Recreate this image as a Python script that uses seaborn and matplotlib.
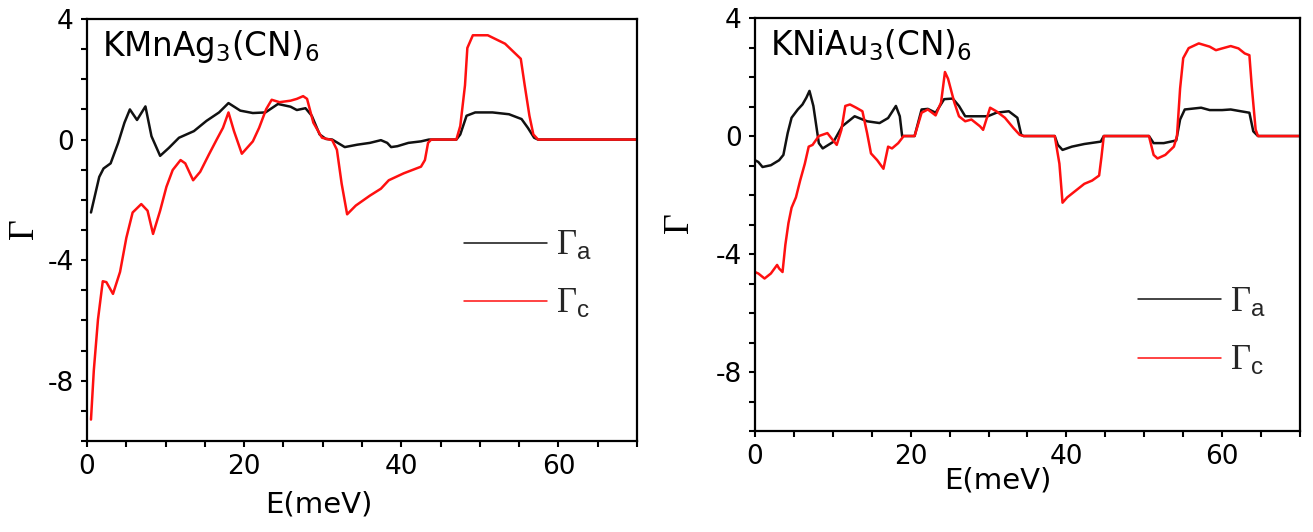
import matplotlib
matplotlib.use("Agg")
import matplotlib.pyplot as plt
from matplotlib.font_manager import FontProperties
from matplotlib.lines import Line2D
from matplotlib.ticker import MultipleLocator, FixedLocator
import seaborn as sns

# ---- KMnAg3(CN)6 ----
mn_ea = [0.5, 1.55, 2.1, 3.0, 3.96, 4.76, 5.45, 6.36, 7.43, 8.2, 9.3, 10.4, 11.7, 13.6, 15.2,
         16.8, 18.0, 19.5, 21.1, 22.7, 24.3, 25.9, 26.7, 27.8, 28.6, 29.6, 30.4, 31.2, 32.8,
         34.4, 36.0, 37.4, 38.2, 38.7, 39.5, 40.9, 42.5, 43.5, 47.0, 47.5, 48.3, 49.4, 51.6,
         53.7, 55.3, 56.1, 56.9, 57.4, 70.0]
mn_ga = [-2.42, -1.24, -0.96, -0.79, -0.11, 0.56, 1.0, 0.65, 1.1, 0.11, -0.54, -0.28, 0.06, 0.28,
         0.62, 0.9, 1.21, 0.96, 0.88, 0.9, 1.18, 1.09, 0.98, 1.04, 0.79, 0.17, 0.02, 0.0, -0.25,
         -0.17, -0.11, -0.02, -0.11, -0.25, -0.22, -0.11, -0.06, 0.0, 0.0, 0.17, 0.79, 0.9, 0.9,
         0.84, 0.68, 0.39, 0.06, 0.0, 0.0]

mn_ec = [0.5, 0.86, 1.39, 2.0, 2.46, 3.3, 4.2, 5.0, 5.8, 6.9, 7.7, 8.4, 9.3, 10.1, 10.9, 11.9,
         12.5, 13.5, 14.4, 15.5, 16.5, 17.3, 18.0, 18.7, 19.7, 21.1, 21.9, 22.8, 23.5, 24.5,
         25.9, 26.7, 27.5, 28.0, 28.8, 29.9, 31.2, 31.8, 32.4, 33.1, 34.2, 36.0, 37.4, 38.4,
         40.3, 42.5, 43.0, 43.4, 43.8, 47.0, 47.5, 48.1, 48.4, 49.1, 51.0, 52.1, 53.2, 54.2,
         55.2, 55.7, 56.3, 56.8, 57.4, 70.0]
mn_gc = [-9.29, -7.66, -5.97, -4.7, -4.73, -5.12, -4.39, -3.26, -2.42, -2.14, -2.36, -3.13, -2.36,
         -1.57, -1.01, -0.68, -0.79, -1.35, -1.07, -0.5, 0.0, 0.39, 0.9, 0.28, -0.47, -0.06, 0.39,
         1.01, 1.32, 1.24, 1.29, 1.35, 1.44, 1.35, 0.56, 0.06, -0.02, -0.34, -1.46, -2.48, -2.19,
         -1.86, -1.63, -1.35, -1.12, -0.9, -0.68, -0.11, 0.0, 0.0, 0.45, 1.8, 3.04, 3.46, 3.46,
         3.32, 3.18, 2.93, 2.68, 1.8, 0.79, 0.17, 0.0, 0.0]

# ---- KNiAu3(CN)6 ----
ni_ea = [0.0, 0.43, 0.97, 2.04, 3.1, 3.65, 4.2, 4.7, 5.5, 6.1, 6.6, 7.0, 7.5, 8.2, 8.7, 10.1,
         11.2, 12.8, 14.4, 16.0, 17.1, 18.1, 18.6, 18.9, 20.5, 21.4, 22.2, 23.2, 24.3, 25.4,
         26.2, 27.0, 28.3, 29.9, 31.0, 32.6, 33.7, 34.2, 34.5, 38.5, 38.9, 39.5, 40.7, 42.3,
         44.4, 44.8, 50.6, 51.2, 52.5, 54.1, 54.6, 55.2, 57.3, 58.4, 60.0, 61.1, 62.4, 63.5,
         64.0, 64.6, 70.0]
ni_ga = [-0.82, -0.88, -1.05, -0.99, -0.82, -0.64, 0.1, 0.62, 0.9, 1.07, 1.3, 1.53, 1.02, -0.24,
         -0.42, -0.19, 0.33, 0.67, 0.5, 0.44, 0.61, 1.02, 0.67, 0.0, 0.0, 0.9, 0.92, 0.79, 1.25,
         1.27, 1.02, 0.67, 0.67, 0.67, 0.79, 0.84, 0.62, 0.04, 0.0, 0.0, -0.3, -0.47, -0.36,
         -0.27, -0.19, 0.0, 0.0, -0.24, -0.24, -0.15, 0.56, 0.9, 0.96, 0.88, 0.88, 0.9, 0.84,
         0.79, 0.16, 0.0, 0.0]

ni_ec = [0.0, 0.43, 1.23, 2.04, 2.84, 3.1, 3.54, 3.9, 4.3, 4.7, 5.26, 5.8, 6.4, 6.9, 7.4, 8.2,
         9.3, 9.8, 10.5, 11.1, 11.6, 12.2, 13.0, 13.8, 14.4, 14.9, 15.7, 16.5, 17.1, 17.6, 18.4,
         19.1, 20.5, 21.4, 22.2, 23.2, 23.9, 24.4, 24.8, 25.6, 26.2, 27.0, 27.8, 28.9, 29.3,
         30.2, 31.0, 32.1, 33.2, 34.0, 34.5, 38.5, 39.1, 39.5, 40.1, 41.2, 42.3, 43.3, 44.2,
         44.5, 44.8, 50.6, 51.2, 51.7, 52.7, 53.8, 54.2, 54.6, 55.0, 55.7, 57.0, 58.4, 59.2,
         60.0, 61.1, 62.1, 62.9, 63.5, 63.8, 64.3, 64.6, 70.0]
ni_gc = [-4.61, -4.66, -4.83, -4.66, -4.37, -4.49, -4.61, -3.69, -2.95, -2.43, -2.08, -1.51,
         -0.94, -0.36, -0.3, 0.0, 0.1, -0.07, -0.3, 0.21, 1.02, 1.07, 0.96, 0.84, 0.1, -0.59,
         -0.82, -1.11, -0.36, -0.42, -0.24, 0.0, 0.0, 0.79, 0.9, 0.7, 1.14, 2.17, 1.94, 1.14,
         0.67, 0.5, 0.56, 0.33, 0.21, 0.96, 0.84, 0.62, 0.27, 0.04, 0.0, 0.0, -0.94, -2.26,
         -2.08, -1.85, -1.62, -1.51, -1.34, -0.71, 0.0, 0.0, -0.64, -0.76, -0.64, -0.36, 0.0,
         1.61, 2.64, 2.98, 3.14, 3.03, 2.91, 2.97, 3.05, 2.97, 2.8, 2.74, 1.7, 0.22, 0.0, 0.0]

compounds = [r"KMnAg$_3$(CN)$_6$", r"KNiAu$_3$(CN)$_6$"]
series_labels = [r"$\Gamma_\mathsf{a}$", r"$\Gamma_\mathsf{c}$"]
x_ticks = [0, 20, 40, 60]
y_ticks = [4, 0, -4, -8]
y_tick_labels = ["4", "0", "-4", "-8"]

sns.set_theme(style="ticks")
plt.rcParams["font.family"] = ["DejaVu Sans"]
plt.rcParams["axes.unicode_minus"] = False
# serif capital Gamma with sans subscripts for the symbol texts
plt.rcParams["mathtext.rm"] = "Liberation Serif"
plt.rcParams["mathtext.sf"] = "Liberation Sans"
plt.rcParams["mathtext.it"] = "Liberation Serif:italic"

fig = plt.figure(figsize=(13.13, 5.32), dpi=100)
ax_l = fig.add_axes([0.0663, 0.1711, 0.4189, 0.7932])
ax_r = fig.add_axes([0.5750, 0.1898, 0.4151, 0.7763])

panels = [
    (ax_l, mn_ea, mn_ga, mn_ec, mn_gc, compounds[0]),
    (ax_r, ni_ea, ni_ga, ni_ec, ni_gc, compounds[1]),
]

line_kw = dict(linewidth=1.8, sort=False, estimator=None)
for ax, ea, ga, ec, gc, name in panels:
    sns.lineplot(x=ea, y=ga, color="#111111", ax=ax, **line_kw)
    sns.lineplot(x=ec, y=gc, color="#ff1010", ax=ax, **line_kw)
    ax.set_xlim(0, 70)
    ax.set_ylim(-10, 4)
    ax.xaxis.set_major_locator(FixedLocator(x_ticks))
    ax.xaxis.set_minor_locator(MultipleLocator(5))
    ax.yaxis.set_major_locator(FixedLocator(y_ticks))
    ax.set_yticklabels(y_tick_labels)
    ax.yaxis.set_minor_locator(MultipleLocator(1))
    ax.tick_params(which="both", direction="out", length=4.5, width=1.5, color="black")
    ax.tick_params(axis="both", which="major", labelsize=19, pad=5, labelcolor="black")
    for side in ["left", "right", "top", "bottom"]:
        ax.spines[side].set_visible(True)
        ax.spines[side].set_linewidth(1.6)
        ax.spines[side].set_color("black")
    ax.set_xlabel("E(meV)", fontsize=21, color="black")
    ax.set_ylabel(r"$\Gamma$", fontsize=26, color="black", math_fontfamily="custom",
                  rotation=90, ha="left", va="center", rotation_mode="default")
    ax.text(0.027, 0.978, name, transform=ax.transAxes, ha="left", va="top",
            fontsize=23.5, color="black")

    handles = [Line2D([], [], color="#111111", lw=1.1),
               Line2D([], [], color="#ff1010", lw=1.1)]
    prop = FontProperties(family="Liberation Serif", size=25, math_fontfamily="custom")
    ax.legend(handles, series_labels, prop=prop, frameon=False, loc="upper left",
              handlelength=2.4, handletextpad=0.25, labelspacing=0.72, borderpad=0,
              borderaxespad=0,
              bbox_to_anchor=(0.685, 0.50) if ax is ax_l else (0.703, 0.35))

ax_l.xaxis.set_label_coords(0.422, -0.118)
ax_r.xaxis.set_label_coords(0.446, -0.085)
ax_l.yaxis.set_label_coords(-0.145, 0.5)
ax_r.yaxis.set_label_coords(-0.171, 0.5)

fig.savefig("out.png", dpi=100)
